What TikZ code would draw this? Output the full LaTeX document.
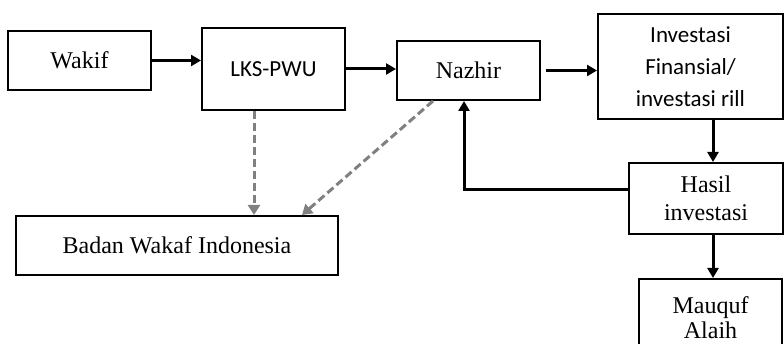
\documentclass[tikz,border=0pt]{standalone}
\usepackage{fontspec}
\setmainfont{Liberation Serif}
\newfontfamily\calib{Carlito}
\usetikzlibrary{arrows.meta}
\begin{document}
\begin{tikzpicture}[x=1pt,y=-1pt,
  box/.style={draw=black,line width=2pt,rectangle,inner sep=0pt,align=center,font=\fontsize{24}{28}\selectfont},
  flow/.style={line width=3pt,-{Triangle[length=10pt,width=11pt]}},
  dflow/.style={line width=3pt,draw={rgb,255:red,128;green,128;blue,128},dash pattern=on 8pt off 4pt,-{Triangle[length=10pt,width=12pt]}}]
\useasboundingbox (0,0) rectangle (784,344);
\node[box,minimum width=143pt,minimum height=59pt] (wakif) at (79.5,60.5) {Wakif};
\node[box,minimum width=143pt,minimum height=82pt,font=\calib\fontsize{23}{28}\selectfont] (lks) at (273.5,69) {LKS-PWU};
\node[box,minimum width=143pt,minimum height=59pt] (nazhir) at (468.5,70.5) {Nazhir};
\node[box,minimum width=185pt,minimum height=105pt,font=\calib\fontsize{23}{32}\selectfont] (inv) at (690.5,66.5) {Investasi\\Finansial/\\investasi rill};
\node[box,minimum width=154pt,minimum height=71pt] (hasil) at (706,198.5) {Hasil\\investasi};
\node[box,minimum width=143pt,minimum height=76pt,anchor=north] (mauquf) at (710.5,278) {};
\node[font=\fontsize{24}{25}\selectfont,align=center,anchor=north] (mauqufText) at (710.5,293) {Mauquf\\Alaih};
\node[box,minimum width=322pt,minimum height=59pt] (bwi) at (177,245.5) {Badan Wakaf Indonesia};

\draw[flow] (wakif.east) -- (lks.west |- wakif.east);
\draw[flow] (lks.east) -- (nazhir.west |- lks.east);
\draw[flow,shorten <=5pt] (nazhir.east) -- (inv.west |- nazhir.east);
\draw[flow] ([xshift=22.5pt]inv.south) -- ([xshift=7pt]hasil.north);
\draw[flow] ([xshift=7pt]hasil.south) -- ([xshift=2.5pt]mauquf.north);
\draw[flow] ([yshift=8.5pt]hasil.west) -| ([xshift=-4.5pt]nazhir.south);
\draw[dflow] ([xshift=-19.5pt]lks.south) -- ([xshift=77pt]bwi.north);
\draw[dflow] ([xshift=-35.5pt]nazhir.south) -- ([xshift=125pt]bwi.north);
\end{tikzpicture}
\end{document}
